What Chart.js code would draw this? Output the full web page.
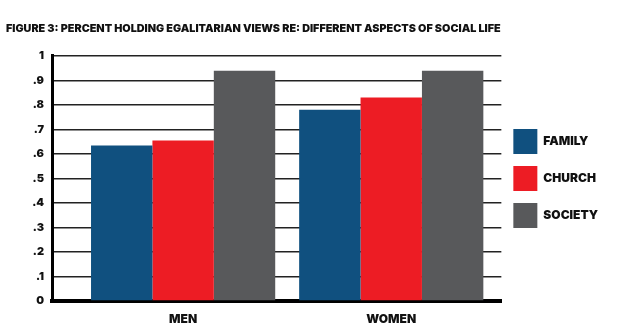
<!DOCTYPE html>
<html>
<head>
<meta charset="utf-8">
<script src="https://cdn.jsdelivr.net/npm/chart.js@4/dist/chart.umd.min.js"></script>
<style>
  html, body { margin: 0; padding: 0; background: #fff; }
  #wrap { width: 620px; height: 334px; }
</style>
</head>
<body>
<div id="wrap"><canvas id="myChart"></canvas></div>
<script>
const categories = ["MEN", "WOMEN"];
const seriesNames = ["FAMILY", "CHURCH", "SOCIETY"];
const family = [0.635, 0.78];
const church = [0.655, 0.83];
const society = [0.94, 0.94];
const yTickLabels = ["0", ".1", ".2", ".3", ".4", ".5", ".6", ".7", ".8", ".9", "1"];

const colors = ["#10507F", "#ED1C24", "#58595B"];
const heavy = "Inter";

// bars sit on a linear x axis so the groups can be placed off-centre
const toPoints = (vals) => vals.map((v, i) => ({ x: i, y: v }));

new Chart("myChart", {
  type: "bar",
  data: {
    datasets: [family, church, society].map((vals, i) => ({
      label: seriesNames[i],
      data: toPoints(vals),
      backgroundColor: colors[i],
      borderWidth: 0,
      categoryPercentage: 0.885,
      barPercentage: 1
    }))
  },
  options: {
    responsive: true,
    maintainAspectRatio: false,
    animation: false,
    layout: { padding: { left: 6, right: 12, top: 0, bottom: 0 } },
    plugins: {
      title: {
        display: true,
        text: "FIGURE 3: PERCENT HOLDING EGALITARIAN VIEWS RE: DIFFERENT ASPECTS OF SOCIAL LIFE",
        align: "start",
        color: "#111",
        font: { family: heavy, size: 10.8, weight: 900 },
        padding: { top: 22, bottom: 21 }
      },
      legend: {
        position: "right",
        fullSize: false,
        labels: {
          color: "#111",
          boxWidth: 24,
          boxHeight: 25,
          padding: 12,
          font: { family: heavy, size: 12, weight: 900 }
        }
      },
      tooltip: { enabled: false }
    },
    scales: {
      x: {
        type: "linear",
        min: -0.63,
        max: 1.529,
        offset: false,
        grid: { display: false },
        border: { display: true, color: "#000", width: 4 },
        afterBuildTicks: (scale) => {
          scale.ticks = categories.map((c, i) => ({ value: i }));
        },
        afterFit: (scale) => { scale.height = 33; },
        ticks: {
          color: "#111",
          padding: 3,
          font: { family: heavy, size: 12, weight: 900 },
          callback: (v) => categories[v]
        }
      },
      y: {
        min: 0,
        max: 1,
        afterFit: (scale) => { scale.width = 46; },
        grid: { color: "#222", lineWidth: 1.5, drawTicks: false },
        border: { display: true, color: "#000", width: 3 },
        ticks: {
          stepSize: 0.1,
          color: "#111",
          padding: 8,
          font: { family: heavy, size: 11, weight: 900 },
          callback: (v, i) => yTickLabels[i]
        }
      }
    }
  }
});
</script>
</body>
</html>
